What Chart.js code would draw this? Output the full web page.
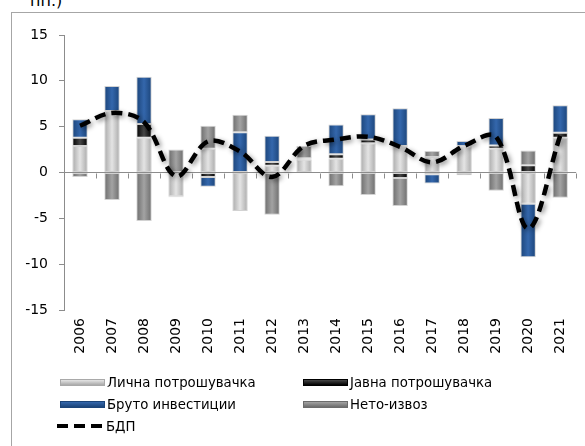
<!DOCTYPE html>
<html>
<head>
<meta charset="utf-8">
<script src="https://cdn.jsdelivr.net/npm/chart.js@4.4.1/dist/chart.umd.min.js"></script>
<style>
  html, body { margin: 0; padding: 0; background: #fff; }
  body { width: 585px; height: 446px; position: relative; overflow: hidden; font-family: "DejaVu Sans", Verdana, sans-serif; }
  #frame { position: absolute; left: 11px; top: 12px; width: 620px; height: 480px;
           border-left: 1px solid #a6a6a6; border-top: 1px solid #a6a6a6; }
  #title { position: absolute; left: 30px; top: -7px; font-size: 16px; line-height: 16px; color: #000; white-space: nowrap; }
  #myChart { position: absolute; left: 0; top: 0; }
  #legend { position: absolute; left: 60px; top: 371px; display: grid;
            grid-template-columns: 243px auto; grid-auto-rows: 22px; font-size: 13.3px; color: #000; }
  .item { display: flex; align-items: center; white-space: nowrap; }
  .sw { width: 45px; height: 7px; margin-right: 2px; box-sizing: border-box; }
  .dash { width: 47px; height: 4px; margin-left: -3px; margin-right: 2px; }
</style>
</head>
<body>
<div id="frame"></div>
<div id="title">пп.)</div>
<canvas id="myChart" width="585" height="446"></canvas>
<div id="legend"></div>
<script>
const years = ['2006', '2007', '2008', '2009', '2010', '2011', '2012', '2013',
               '2014', '2015', '2016', '2017', '2018', '2019', '2020', '2021'];

// contributions to growth, p.p.
const privateCons = [2.9, 6.7, 3.8, -2.6, 2.6, -4.2, 0.75, 1.4, 1.5, 3.2, 2.9, 1.7, 2.8, 2.6, -3.4, 3.8];
const govCons     = [0.9, 0, 1.5, 0, -0.5, 0, 0.4, 0, 0.5, 0.4, -0.6, -0.2, 0.1, 0.35, 0.8, 0.55];
const investment  = [2.0, 2.75, 5.15, -0.1, -1.05, 4.4, 2.85, 0.15, 3.25, 2.75, 4.1, -1.0, 0.55, 3.0, -5.85, 3.0];
const netExports  = [-0.5, -3.0, -5.3, 2.5, 2.5, 1.9, -4.6, 1.35, -1.5, -2.45, -3.05, 0.65, -0.3, -2.0, 1.6, -2.75];
const gdp         = [5.1, 6.5, 5.5, -0.4, 3.4, 2.3, -0.5, 2.9, 3.6, 3.9, 2.8, 1.1, 2.9, 3.9, -6.1, 4.0];

const BAR_FRACTION = 0.48;
const FONT = '"DejaVu Sans", Verdana, sans-serif';

// edge colour, centre colour
const palette = {
  private: ['#a9a9a9', '#e4e4e4'],
  gov: ['#000000', '#474747'],
  invest: ['#1b4479', '#3467ac'],
  net: ['#6c6c6c', '#a3a3a3']
};

function barFill(stops) {
  return (c) => {
    const chart = c.chart;
    if (!chart.chartArea || c.type !== 'data') return stops[1];
    const xs = chart.scales.x;
    const cx = xs.getPixelForValue(c.dataIndex);
    const w = xs.width / years.length * BAR_FRACTION;
    const g = chart.ctx.createLinearGradient(cx - w / 2, 0, cx + w / 2, 0);
    g.addColorStop(0, stops[0]);
    g.addColorStop(0.5, stops[1]);
    g.addColorStop(1, stops[0]);
    return g;
  };
}

function barSet(label, data, stops) {
  return {
    type: 'bar',
    label: label,
    data: data,
    backgroundColor: barFill(stops),
    borderColor: 'rgba(205,205,205,0.9)',
    borderWidth: 1,
    borderSkipped: false,
    stack: 'contrib',
    order: 1,
    swatch: stops
  };
}

// small tick marks on the zero line between categories
const zeroTicks = {
  id: 'zeroTicks',
  beforeDatasetsDraw(chart) {
    const {ctx, scales: {x, y}} = chart;
    const y0 = Math.round(y.getPixelForValue(0)) + 0.5;
    ctx.save();
    ctx.strokeStyle = '#8c8c8c';
    ctx.lineWidth = 1;
    ctx.beginPath();
    for (let i = 0; i <= years.length; i++) {
      const px = Math.round(x.getPixelForValue(i - 0.5)) + 0.5;
      ctx.moveTo(px, y0);
      ctx.lineTo(px, y0 + 5);
    }
    ctx.stroke();
    ctx.restore();
  }
};

// soft shadow under the GDP line
const lineShadow = {
  id: 'lineShadow',
  beforeDatasetDraw(chart, args) {
    if (args.meta.type !== 'line') return;
    const ctx = chart.ctx;
    ctx.save();
    ctx.shadowColor = 'rgba(0,0,0,0.45)';
    ctx.shadowBlur = 5;
    ctx.shadowOffsetX = 2;
    ctx.shadowOffsetY = 2;
  },
  afterDatasetDraw(chart, args) {
    if (args.meta.type !== 'line') return;
    chart.ctx.restore();
  }
};

const ctx = document.getElementById('myChart').getContext('2d');

const myChart = new Chart(ctx, {
  data: {
    labels: years,
    datasets: [
      barSet('Лична потрошувачка', privateCons, palette.private),
      barSet('Јавна потрошувачка', govCons, palette.gov),
      barSet('Бруто инвестиции', investment, palette.invest),
      barSet('Нето-извоз', netExports, palette.net),
      {
        type: 'line',
        label: 'БДП',
        data: gdp,
        borderColor: '#000',
        borderWidth: 4.5,
        borderDash: [11, 6],
        tension: 0.35,
        pointRadius: 0,
        fill: false,
        stack: 'gdp',
        order: -1
      }
    ]
  },
  options: {
    responsive: false,
    animation: false,
    events: [],
    layout: { padding: { top: 35, right: 1.5, left: 0, bottom: 0 } },
    datasets: {
      bar: { categoryPercentage: 1, barPercentage: BAR_FRACTION }
    },
    plugins: {
      legend: { display: false },
      tooltip: { enabled: false }
    },
    scales: {
      x: {
        stacked: true,
        grid: { display: false, drawTicks: false },
        border: { display: false },
        ticks: {
          autoSkip: false,
          minRotation: 90,
          maxRotation: 90,
          padding: 8,
          color: '#000',
          font: { family: FONT, size: 14 }
        },
        afterFit: (scale) => { scale.height = 446 - 310; }
      },
      y: {
        stacked: true,
        min: -15,
        max: 15,
        ticks: {
          stepSize: 5,
          padding: 11,
          color: '#000',
          font: { family: FONT, size: 14 }
        },
        grid: {
          color: (c) => (c.tick && c.tick.value === 0 ? '#8c8c8c' : 'rgba(0,0,0,0)'),
          tickColor: '#8c8c8c',
          tickLength: 5
        },
        border: { display: true, color: '#8c8c8c' },
        afterFit: (scale) => { scale.width = 64; }
      }
    }
  },
  plugins: [zeroTicks, lineShadow]
});

// Excel-like legend in two columns, built from the datasets
const legendEl = document.getElementById('legend');
myChart.data.datasets.forEach((ds) => {
  const item = document.createElement('div');
  item.className = 'item';
  const sw = document.createElement('span');
  if (ds.type === 'line') {
    sw.className = 'dash';
    const d = ds.borderDash;
    sw.style.background = `repeating-linear-gradient(90deg, ${ds.borderColor} 0 ${d[0]}px, transparent ${d[0]}px ${d[0] + d[1]}px)`;
  } else {
    sw.className = 'sw';
    sw.style.background = `linear-gradient(180deg, ${ds.swatch[1]}, ${ds.swatch[0]})`;
    sw.style.border = '1px solid ' + ds.swatch[0];
  }
  const txt = document.createElement('span');
  txt.textContent = ds.label;
  item.appendChild(sw);
  item.appendChild(txt);
  legendEl.appendChild(item);
});
</script>
</body>
</html>
